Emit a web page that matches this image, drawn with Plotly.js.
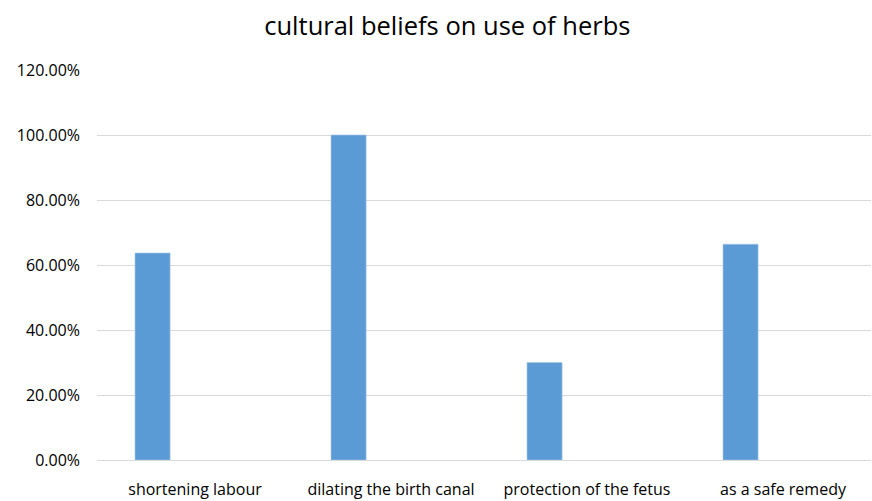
<!DOCTYPE html>
<html>
<head>
<meta charset="utf-8">
<script src="https://cdn.plot.ly/plotly-3.0.1.min.js"></script>
<style>html,body{margin:0;padding:0;background:#fff;}#chart{width:872px;height:501px;}</style>
</head>
<body>
<div id="chart"></div>
<script>
var categories = ["shortening labour", "dilating the birth canal", "protection of the fetus", "as a safe remedy"];
var values = [0.637, 1.0, 0.30, 0.664];
var tickValues = [0, 0.2, 0.4, 0.6, 0.8, 1.0, 1.2];

var trace = {
  type: "bar",
  x: categories,
  y: values,
  width: 0.179,
  offset: -0.306,
  marker: {color: "#5B9BD5", line: {color: "#A9C8EA", width: 0.6}},
  hoverinfo: "x+y"
};

var layout = {
  width: 872,
  height: 501,
  margin: {l: 97, r: 1, t: 70, b: 41},
  paper_bgcolor: "#ffffff",
  plot_bgcolor: "#ffffff",
  showlegend: false,
  font: {family: "Open Sans, Liberation Sans, Arial, sans-serif", color: "#404040"},
  title: {
    text: "cultural beliefs on use of herbs",
    font: {size: 25.5, color: "#000000", family: "Open Sans, Liberation Sans, Arial, sans-serif"},
    x: 0.513, xanchor: "center", y: 0.948, yanchor: "middle"
  },
  xaxis: {
    type: "category",
    range: [-0.5, 3.449],
    showgrid: false,
    showline: true,
    linecolor: "#D9D9D9",
    linewidth: 1,
    ticks: "",
    tickfont: {size: 16, color: "#000000"},
    ticklabelstandoff: 15,
    zeroline: false,
    fixedrange: true
  },
  yaxis: {
    range: [0, 1.2],
    tickvals: tickValues,
    tickformat: ".2%",
    showgrid: true,
    gridcolor: "#D9D9D9",
    gridwidth: 1,
    zeroline: false,
    showline: false,
    ticks: "",
    tickfont: {size: 16, color: "#000000"},
    ticklabelstandoff: 16,
    fixedrange: true
  },
  bargap: 0
};

Plotly.newPlot("chart", [trace], layout, {displayModeBar: false, staticPlot: true});
</script>
</body>
</html>
